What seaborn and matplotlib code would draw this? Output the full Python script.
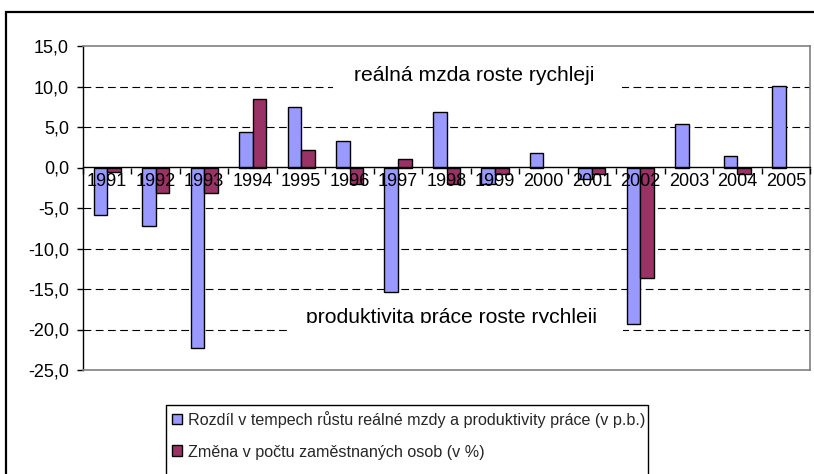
import numpy as np
import pandas as pd
import matplotlib
matplotlib.use("Agg")
import matplotlib.pyplot as plt
from matplotlib.patches import Rectangle, Patch
from matplotlib.ticker import FuncFormatter
from matplotlib.transforms import Bbox, TransformedBbox
import seaborn as sns

years = ['1991', '1992', '1993', '1994', '1995', '1996', '1997', '1998',
         '1999', '2000', '2001', '2002', '2003', '2004', '2005']
rozdil = [-5.9, -7.2, -22.3, 4.4, 7.5, 3.3, -15.4, 6.9, -2.0, 1.8, -1.4, -19.3, 5.4, 1.4, 10.1]
zmena = [-0.5, -3.2, -3.2, 8.4, 2.1, -2.0, 1.0, -2.0, -0.8, np.nan, -0.8, -13.6, np.nan, -0.8, np.nan]
series_names = ['Rozdíl v tempech růstu reálné mzdy a produktivity práce (v p.b.)',
                'Změna v počtu zaměstnaných osob (v %)']
colors = ['#9999FF', '#993366']
yticks = [15, 10, 5, 0, -5, -10, -15, -20, -25]
note_top = 'reálná mzda roste rychleji'
note_bottom = 'produktivita práce roste rychleji'

sns.set_theme(style='white')
plt.rcParams['font.family'] = ['Liberation Sans', 'DejaVu Sans']

df = pd.DataFrame({
    'rok': years * 2,
    'hodnota': rozdil + zmena,
    'serie': [series_names[0]] * len(years) + [series_names[1]] * len(years),
})

W, H = 814, 474
fig = plt.figure(figsize=(W / 100, H / 100), dpi=100)
ax = fig.add_axes([83 / W, 1 - 370 / H, (810 - 83) / W, (370 - 46) / H])

sns.barplot(data=df, x='rok', y='hodnota', hue='serie', order=years,
            hue_order=series_names, palette=colors, width=0.56,
            edgecolor='black', linewidth=1.0, saturation=1, legend=False,
            ax=ax, zorder=3)

ymin, ymax = min(yticks), max(yticks)
ax.set_ylim(ymin, ymax)
ax.set_xlim(-0.5, len(years) - 0.5)
ax.set_xlabel('')
ax.set_ylabel('')
ax.set_xticks([])
ax.set_yticks(yticks)
ax.yaxis.set_major_formatter(FuncFormatter(lambda v, p: f'{v:.1f}'.replace('.', ',')))
ax.tick_params(axis='y', which='major', left=True, length=4, width=1, color='black',
               direction='out', pad=6, labelsize=13, labelcolor='black')

# grid
ax.grid(axis='y', color='black', linestyle=(0, (7, 4)), linewidth=0.8, zorder=1)
for t, v in zip(ax.yaxis.get_major_ticks(), ax.get_yticks()):
    if v in (ymin, ymax, 0):
        t.gridline.set_visible(False)

for s in ['top', 'right', 'bottom']:
    ax.spines[s].set_color('#808080')
    ax.spines[s].set_linewidth(1.2)
ax.spines['left'].set_color('black')
ax.spines['left'].set_linewidth(1.0)

# category axis at zero
loc = (0 - ymin) / (ymax - ymin)
sec = ax.secondary_xaxis(loc)
sec.xaxis.set_ticks_position('bottom')
sec.set_xticks(range(len(years)), labels=years)
sec.set_xticks(np.arange(-0.5, len(years), 1.0), minor=True)
sec.tick_params(axis='x', which='major', bottom=True, top=False, labelbottom=True,
                labeltop=False, length=0, pad=4, labelsize=13, labelcolor='black')
sec.tick_params(axis='x', which='minor', bottom=True, top=False, length=4, width=1,
                color='black', direction='out')
for s in ['top', 'bottom']:
    sec.spines[s].set_color('black')
    sec.spines[s].set_linewidth(1.0)
sec.set_zorder(5)

# annotation boxes
ax.add_patch(Rectangle((4.65, 8.6), 10.63 - 4.65, 4.6, facecolor='white',
                       edgecolor='none', zorder=2))
ax.text(7.58, 11.4, note_top, ha='center', va='center', fontsize=15.2,
        color='black', zorder=4)
ax.add_patch(Rectangle((3.71, -20.8), 10.65 - 3.71, 4.5, facecolor='white',
                       edgecolor='none', zorder=2))
t2 = ax.text(7.1, -18.5, note_bottom, ha='center', va='center', fontsize=15.2,
             color='black', zorder=4)
t2.set_clip_on(True)
t2.set_clip_box(TransformedBbox(Bbox([[3.71, -19.25], [10.65, -15.6]]), ax.transData))

# legend with box running past the bottom edge
fig.add_artist(Rectangle((166 / W, -0.05), (648 - 166) / W, 1 - 405 / H + 0.05,
                         transform=fig.transFigure, facecolor='white',
                         edgecolor='black', linewidth=1.0, zorder=1))
handles = [Patch(facecolor=c, edgecolor='black', linewidth=1.0) for c in colors]
leg = fig.legend(handles, series_names, loc='upper left',
                 bbox_to_anchor=(166 / W, 1 - 405 / H), frameon=False,
                 fontsize=11.6,
                 handlelength=0.65, handleheight=0.65, handletextpad=0.35,
                 labelspacing=1.05, borderpad=0.35, borderaxespad=0)
leg.set_zorder(2)

fig.add_artist(Rectangle((6 / W, -0.5), 2.0, 0.5 + 1 - 12 / H, transform=fig.transFigure,
                         fill=False, edgecolor='black', linewidth=1.6))

fig.savefig('out.png', dpi=100)
